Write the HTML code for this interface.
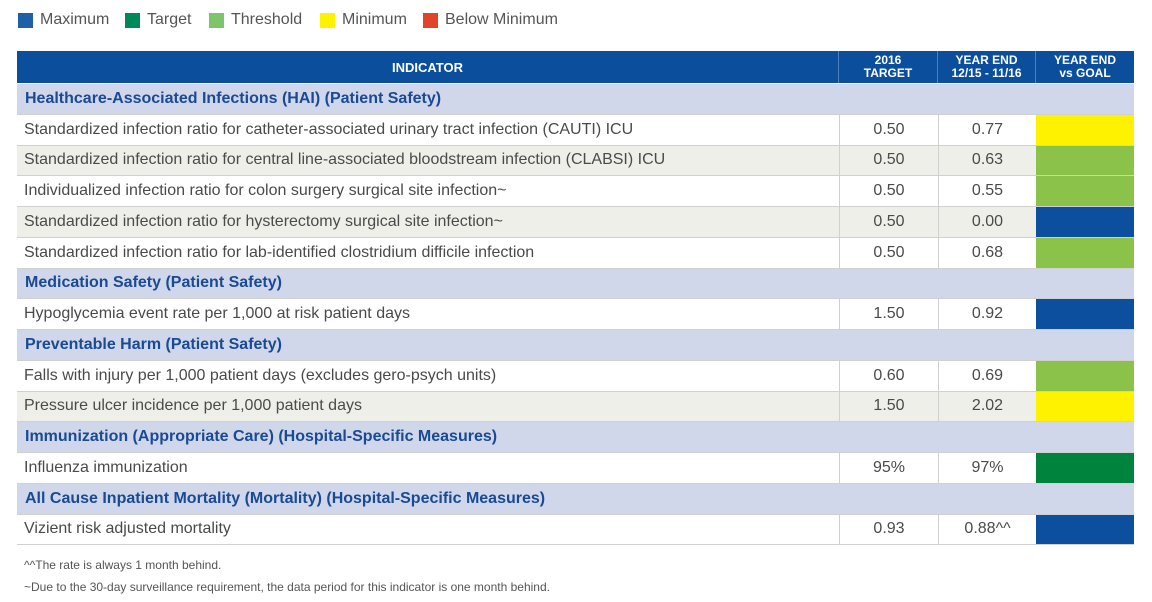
<!DOCTYPE html>
<html><head><meta charset="utf-8"><style>
body{margin:0;width:1152px;height:602px;background:#fff;font-family:"Liberation Sans",sans-serif;position:relative;overflow:hidden}
.abs{position:absolute}
.leg{position:absolute;top:11px;font-size:16px;color:#555;display:flex;align-items:center}
.leg i{display:inline-block;width:15px;height:15px;margin-right:7px}
.row{position:absolute;left:17px;width:1117px;box-sizing:border-box;border-bottom:1px solid #d0d0d0}
.cell{position:absolute;top:0;height:100%;box-sizing:border-box;display:flex;align-items:center;font-size:16px;color:#4a4a4a}
.sec{background:#d0d7eb;color:#1a4a93;font-weight:bold;font-size:16px}
.hdr{position:absolute;top:51px;height:32px;background:#0b4f9c;color:#fff;font-weight:bold;font-size:12px;text-align:center;display:flex;align-items:center;justify-content:center;line-height:13px;box-sizing:border-box;border-right:1px solid #4d7fbf}
.foot{position:absolute;left:24px;font-size:12px;color:#555}
</style></head><body>
<div class="leg" style="left:18px"><i style="background:#1f5fa8"></i>Maximum</div>
<div class="leg" style="left:125px"><i style="background:#00875a"></i>Target</div>
<div class="leg" style="left:209px"><i style="background:#7dc46b"></i>Threshold</div>
<div class="leg" style="left:320px"><i style="background:#fff200"></i>Minimum</div>
<div class="leg" style="left:423px"><i style="background:#e0442b"></i>Below Minimum</div>

<div class="hdr" style="left:17px;width:822px;font-size:13px">INDICATOR</div>
<div class="hdr" style="left:839px;width:99px">2016<br>TARGET</div>
<div class="hdr" style="left:938px;width:98px">YEAR END<br>12/15 - 11/16</div>
<div class="hdr" style="left:1036px;width:98px;border-right:none">YEAR END<br>vs GOAL</div>

<div id="tbl"></div>

<div class="foot" style="top:558px">^^The rate is always 1 month behind.</div>
<div class="foot" style="top:580px">~Due to the 30-day surveillance requirement, the data period for this indicator is one month behind.</div>

<script>
const labels=["S:Healthcare-Associated Infections (HAI) (Patient Safety)",
"Standardized infection ratio for catheter-associated urinary tract infection (CAUTI) ICU",
"Standardized infection ratio for central line-associated bloodstream infection (CLABSI) ICU",
"Individualized infection ratio for colon surgery surgical site infection~",
"Standardized infection ratio for hysterectomy surgical site infection~",
"Standardized infection ratio for lab-identified clostridium difficile infection",
"S:Medication Safety (Patient Safety)",
"Hypoglycemia event rate per 1,000 at risk patient days",
"S:Preventable Harm (Patient Safety)",
"Falls with injury per 1,000 patient days (excludes gero-psych units)",
"Pressure ulcer incidence per 1,000 patient days",
"S:Immunization (Appropriate Care) (Hospital-Specific Measures)",
"Influenza immunization",
"S:All Cause Inpatient Mortality (Mortality) (Hospital-Specific Measures)",
"Vizient risk adjusted mortality"];
const targets=["","0.50","0.50","0.50","0.50","0.50","","1.50","","0.60","1.50","","95%","","0.93"];
const actuals=["","0.77","0.63","0.55","0.00","0.68","","0.92","","0.69","2.02","","97%","","0.88^^"];
const status=["","min","thr","thr","max","thr","","max","","thr","min","","tgt","","max"];
const shaded=[0,0,1,0,1,0,0,0,0,0,1,0,0,0,0];
const colors={min:"#fff200",thr:"#8bc34a",max:"#0b4f9e",tgt:"#00843d"};
const tbl=document.getElementById('tbl');
const top0=84,rh=30.75;
labels.forEach((l,i)=>{
  const r=document.createElement('div');
  
  r.className='row';
  r.style.top=(top0+i*rh)+'px';r.style.height=rh+'px';
  if(l.startsWith('S:')){
    
    r.className+=' sec';
    r.innerHTML='<div class="cell" style="left:8px;color:#1a4a93;font-weight:bold">'+l.slice(2)+'</div>';
  }else{
    
    r.style.background=shaded[i]?'#efefe9':'#fff';
    r.innerHTML='<div class="cell" style="left:7px">'+l+'</div>'+
    '<div class="cell" style="left:822px;width:99px;justify-content:center;border-left:1px solid #d0d0d0">'+targets[i]+'</div>'+
    '<div class="cell" style="left:921px;width:98px;justify-content:center;border-left:1px solid #d0d0d0">'+actuals[i]+'</div>'+
    '<div class="cell" style="left:1019px;width:98px;background:'+colors[status[i]]+'"></div>';
  }
  tbl.appendChild(r);
});
</script>
</body></html>
